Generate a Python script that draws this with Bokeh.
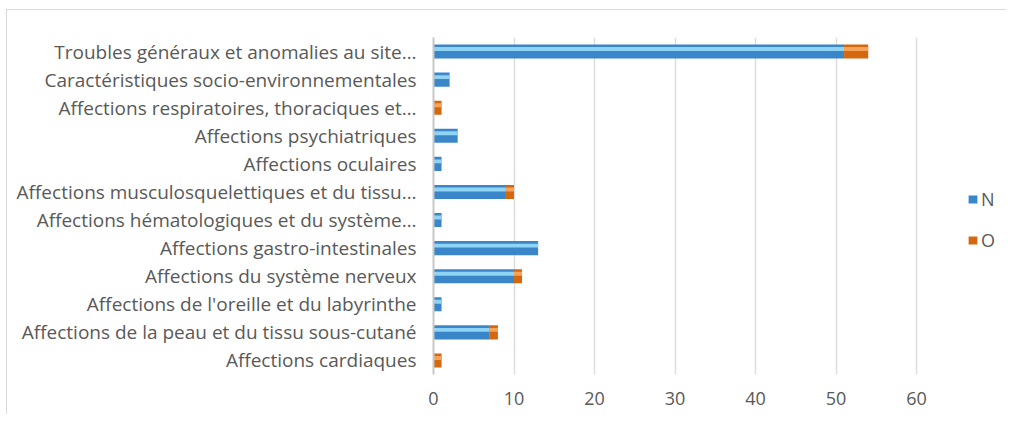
from bokeh.plotting import figure
from bokeh.models import FactorRange, Range1d, FixedTicker, Legend, LegendItem, ColumnDataSource
from bokeh.transform import dodge
from bokeh.embed import file_html
from bokeh.resources import INLINE

categories = [
    "Troubles généraux et anomalies au site…",
    "Caractéristiques socio-environnementales",
    "Affections respiratoires, thoraciques et…",
    "Affections psychiatriques",
    "Affections oculaires",
    "Affections musculosquelettiques et du tissu…",
    "Affections hématologiques et du système…",
    "Affections gastro-intestinales",
    "Affections du système nerveux",
    "Affections de l'oreille et du labyrinthe",
    "Affections de la peau et du tissu sous-cutané",
    "Affections cardiaques",
]
N = [51, 2, 0, 3, 1, 9, 1, 13, 10, 1, 7, 0]
O = [3, 0, 1, 0, 0, 1, 0, 0, 1, 0, 1, 1]
x_ticks = [0, 10, 20, 30, 40, 50, 60]

FONT = "Open Sans"
GRAY = "#595959"

src = ColumnDataSource(dict(
    cat=categories,
    n_left=[0] * len(N),
    n_right=N,
    o_left=N,
    o_right=[a + b for a, b in zip(N, O)],
))

# frame extends to the right so the legend can sit inside it; ticks stop at 60
FRAME_W = 1000 - 426 - 5
X_END = 60 * FRAME_W / 483

p = figure(
    width=1000, height=405,
    y_range=FactorRange(factors=list(reversed(categories))),
    x_range=Range1d(0, X_END),
    output_backend="svg", toolbar_location=None,
    min_border_left=426, min_border_right=5, min_border_top=27, min_border_bottom=41,
)
p.styles = {"border-left": "1px solid #d9d9d9", "border-top": "1px solid #d9d9d9",
            "margin-left": "6px", "margin-top": "9px"}
p.outline_line_color = None

rn = p.hbar(y="cat", left="n_left", right="n_right", height=0.5, source=src,
            fill_color="#3a86c8", line_color=None)
p.hbar(y=dodge("cat", 0.09, range=p.y_range), left="n_left", right="n_right", height=0.14,
       source=src, fill_color="#8fd3f5", line_color=None)
ro = p.hbar(y="cat", left="o_left", right="o_right", height=0.5, source=src,
            fill_color="#d4680f", line_color=None)
p.hbar(y=dodge("cat", 0.09, range=p.y_range), left="o_left", right="o_right", height=0.14,
       source=src, fill_color="#f5a25a", line_color=None)

p.xaxis.ticker = FixedTicker(ticks=x_ticks)
p.xaxis.axis_line_color = None
p.xaxis.major_tick_line_color = None
p.xaxis.minor_tick_line_color = None
p.xaxis.major_label_text_font = FONT
p.xaxis.major_label_text_font_size = "18px"
p.xaxis.major_label_text_color = GRAY
p.xaxis.major_label_standoff = 11

p.yaxis.axis_line_color = "#c8c8c8"
p.yaxis.axis_line_width = 2
p.yaxis.major_tick_line_color = None
p.yaxis.minor_tick_line_color = None
p.yaxis.major_label_text_font = FONT
p.yaxis.major_label_text_font_size = "19px"
p.yaxis.major_label_text_color = GRAY
p.yaxis.major_label_standoff = 11

p.xgrid.grid_line_color = "#dcdcdc"
p.xgrid.grid_line_width = 1.5
p.ygrid.grid_line_color = None

legend = Legend(
    items=[LegendItem(label="N", renderers=[rn]), LegendItem(label="O", renderers=[ro])],
    location=(534, 122),
    orientation="vertical",
    glyph_width=11, glyph_height=10,
    label_text_font=FONT, label_text_font_size="18px", label_text_color=GRAY,
    label_standoff=3, spacing=17, padding=0, margin=0,
    border_line_color=None, background_fill_alpha=0,
)
p.add_layout(legend, "center")

open("out.html", "w").write(file_html(p, INLINE))
